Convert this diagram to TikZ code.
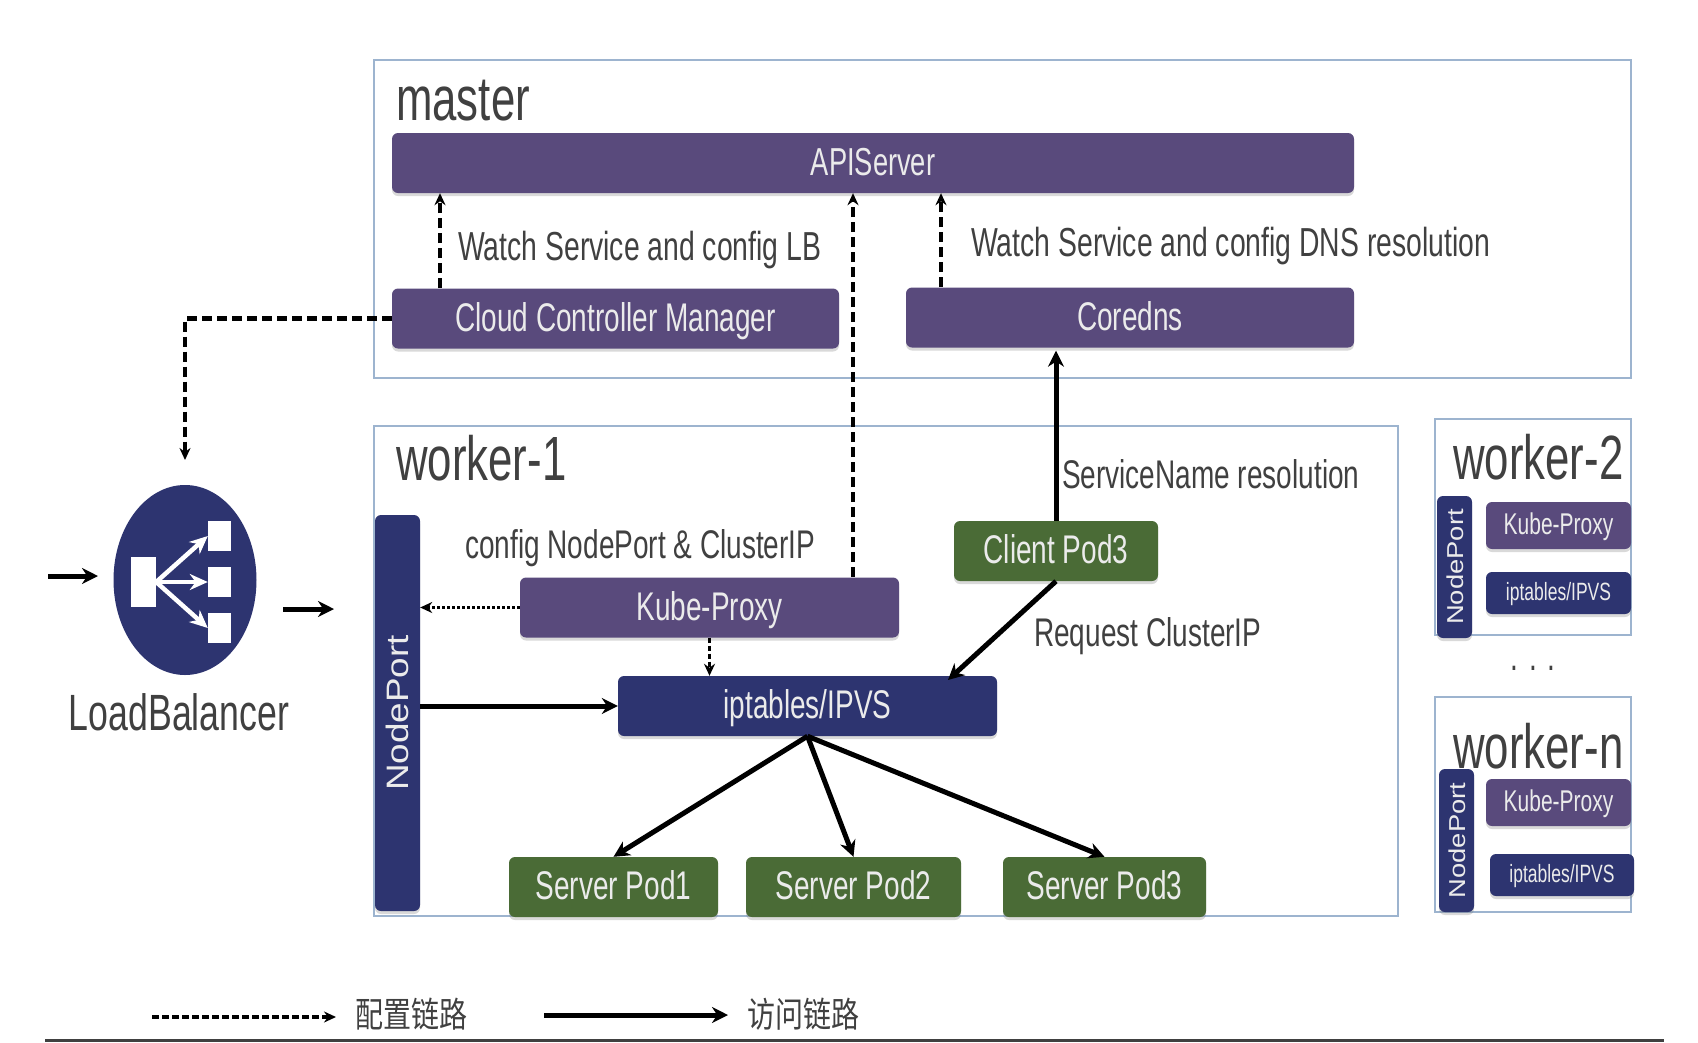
\documentclass[tikz,border=0pt]{standalone}
\usepackage{fontspec}
\setmainfont[FakeStretch=0.7]{Liberation Sans}
\newfontfamily\portfont[FakeStretch=1.19]{Liberation Sans}
\newfontfamily\cjkfont[FakeStretch=0.8]{Noto Sans CJK SC}
\usepackage{xcolor}
\usetikzlibrary{arrows.meta,shadows,shapes.geometric}
\definecolor{boxpurple}{HTML}{594A7C}
\definecolor{boxnavy}{HTML}{2D3470}
\definecolor{boxgreen}{HTML}{4A6B36}
\definecolor{frameblue}{HTML}{9DB4CF}
\definecolor{labelgray}{HTML}{404040}
\tikzset{
  frameline/.style={draw=frameblue,line width=2pt},
  titletext/.style={anchor=west,inner sep=0pt,text=labelgray,text height=45pt,text depth=4pt,font=\fontsize{62.5}{66}\selectfont},
  labeltext/.style={anchor=west,inner sep=0pt,text=labelgray,text height=29pt,text depth=0pt,font=\fontsize{40}{44}\selectfont},
  cjktext/.style={labeltext,text height=31pt,text depth=4pt,font=\cjkfont\fontsize{35}{40}\selectfont},
  box/.style={rectangle,rounded corners=6pt,inner sep=0pt,text=white!92!black,
    text height=29pt,text depth=4pt,font=\fontsize{40}{44}\selectfont,
    drop shadow={shadow xshift=0pt,shadow yshift=-3pt,opacity=.3}},
  purplebox/.style={box,fill=boxpurple},
  navybox/.style={box,fill=boxnavy},
  greenbox/.style={box,fill=boxgreen},
  smallkube/.style={purplebox,text height=22pt,font=\fontsize{30}{34}\selectfont},
  smallipt/.style={navybox,text height=18pt,font=\fontsize{25}{30}\selectfont},
  portbox/.style={navybox,rotate=90,text height=22pt,text depth=0pt,font=\portfont\fontsize{31}{36}\selectfont},
  smallport/.style={portbox,text height=17pt,font=\portfont\fontsize{23}{28}\selectfont},
  config/.style={-{Stealth[length=12pt,width=11pt]},line width=3.5pt,dash pattern=on 10pt off 5pt},
  access/.style={-{Stealth[length=16pt,width=16pt]},line width=5pt},
  block/.style={fill=white,inner sep=0pt}
}
\begin{document}
\begin{tikzpicture}[x=1pt,y=-1pt]
\useasboundingbox (0,0) rectangle (1698,1042);
% frames
\draw[frameline] (374,60) rectangle (1631,378);
\draw[frameline] (374,426) rectangle (1398,916);
\draw[frameline] (1435,419) rectangle (1631,635);
\draw[frameline] (1435,697) rectangle (1631,912);
\node[titletext] (mastertitle) at (396,100) {master};
\node[titletext] (worker1title) at (396,460) {worker-1};
\node[titletext] (worker2title) at (1453,459) {worker-2};
\node[titletext] (workerntitle) at (1453,748) {worker-n};
% master
\node[purplebox,minimum width=962,minimum height=60,font=\fontsize{39}{44}\selectfont] (apiserver) at (873,163) {APIServer};
\node[purplebox,minimum width=447,minimum height=60] (cloudcm) at (615.5,318.5) {Cloud Controller Manager};
\node[purplebox,minimum width=448,minimum height=60] (coredns) at (1130,317.5) {Coredns};
% worker-1
\node[portbox,minimum width=396,minimum height=45] (nodeport) at (397.5,713) {NodePort};
\node[purplebox,minimum width=379,minimum height=60] (kubeproxy) at (709.5,607.5) {Kube-Proxy};
\node[navybox,minimum width=379,minimum height=60] (iptables) at (807.5,706) {iptables/IPVS};
\node[greenbox,minimum width=204,minimum height=60] (client) at (1056,551) {Client Pod3};
\node[greenbox,minimum width=209,minimum height=60] (pod1) at (613.5,887) {Server Pod1};
\node[greenbox,minimum width=215,minimum height=60] (pod2) at (853.5,887) {Server Pod2};
\node[greenbox,minimum width=203,minimum height=60] (pod3) at (1104.5,887) {Server Pod3};
% worker-2 and worker-n
\node[smallport,minimum width=142,minimum height=35] (nodeport2) at (1454.5,567) {NodePort};
\node[smallkube,minimum width=145,minimum height=47] (kube2) at (1558.5,525.5) {Kube-Proxy};
\node[smallipt,minimum width=145,minimum height=42] (ipt2) at (1558.5,593) {iptables/IPVS};
\node[smallport,minimum width=143,minimum height=35] (nodeportn) at (1456.5,840.5) {NodePort};
\node[smallkube,minimum width=145,minimum height=47] (kuben) at (1558.5,802.5) {Kube-Proxy};
\node[smallipt,minimum width=144,minimum height=42] (iptn) at (1562,875) {iptables/IPVS};
\node[labeltext,anchor=center,text height=6pt] (dots) at (1533,667) {. . .};
% load balancer
\node[ellipse,fill=boxnavy,minimum width=143,minimum height=190,inner sep=0pt] (lb) at (185,580) {};
\node[block,minimum width=25,minimum height=50] (lbsrc) at (143.5,582) {};
\foreach \name/\ypos in {lbdst1/536,lbdst2/582,lbdst3/628}{
  \node[block,minimum width=23,minimum height=30] (\name) at (219.5,\ypos) {};
  \draw[-{Stealth[length=18pt,width=16pt]},line width=4.5pt,white] (lbsrc.east) -- (\name.west);
}
\node[labeltext,anchor=center,text height=37pt,font=\fontsize{51}{55}\selectfont] (lblabel) at (179,712) {LoadBalancer};
% texts
\node[labeltext,font=\fontsize{40.5}{46}\selectfont] (watchlb) at (458,246) {Watch Service and config LB};
\node[labeltext,font=\fontsize{40.5}{46}\selectfont] (watchdns) at (971,242) {Watch Service and config DNS resolution};
\node[labeltext] (svcname) at (1062,474) {ServiceName resolution};
\node[labeltext] (confignp) at (465,544) {config NodePort \& ClusterIP};
\node[labeltext] (reqip) at (1034,632) {Request ClusterIP};
% free ends
\coordinate (cloudup) at (440,288);
\coordinate (kubeup) at (853,577);
\coordinate (dnsup) at (941,287);
\coordinate (lbtop) at (185,460);
\coordinate (inleft) at (48,576);
\coordinate (inright) at (98,576);
\coordinate (outleft) at (283,609);
\coordinate (outright) at (334,609);
\coordinate (ipin) at (948,680);
% connectors
\draw[config] (cloudup) -- (cloudup |- apiserver.south);
\draw[config] (kubeup) -- (kubeup |- apiserver.south);
\draw[config] (dnsup) -- (dnsup |- apiserver.south);
\draw[config,line width=4.5pt] (cloudcm.west) -| (lbtop);
\draw[access,shorten >=3pt] (client.north) -- (client.north |- coredns.south);
\draw[access] (client.south) -- (ipin);
\draw[access] (iptables.west -| nodeport.south) -- (iptables.west);
\draw[config,dash pattern=on 3pt off 2pt] (kubeproxy.west) -- (kubeproxy.west -| nodeport.south);
\draw[config,dash pattern=on 5pt off 3pt] (kubeproxy.south) -- (kubeproxy.south |- iptables.north);
\draw[access] (iptables.south) -- (pod1.north);
\draw[access] (iptables.south) -- (pod2.north);
\draw[access] (iptables.south) -- (pod3.north);
\draw[access] (inleft) -- (inright);
\draw[access] (outleft) -- (outright);
% legend
\coordinate (cfgstart) at (152,1017);
\coordinate (cfgend) at (336,1017);
\coordinate (accstart) at (544,1015);
\coordinate (accend) at (728,1015);
\draw[config,line width=4.5pt,dash pattern=on 7pt off 3pt] (cfgstart) -- (cfgend);
\draw[access] (accstart) -- (accend);
\node[cjktext] (cfgtext) at (355,1014) {配置链路};
\node[cjktext] (acctext) at (747,1014) {访问链路};
\coordinate (rulestart) at (45,1040.5);
\coordinate (ruleend) at (1664,1040.5);
\draw[line width=2.5pt,black!75] (rulestart) -- (ruleend);
\end{tikzpicture}
\end{document}
